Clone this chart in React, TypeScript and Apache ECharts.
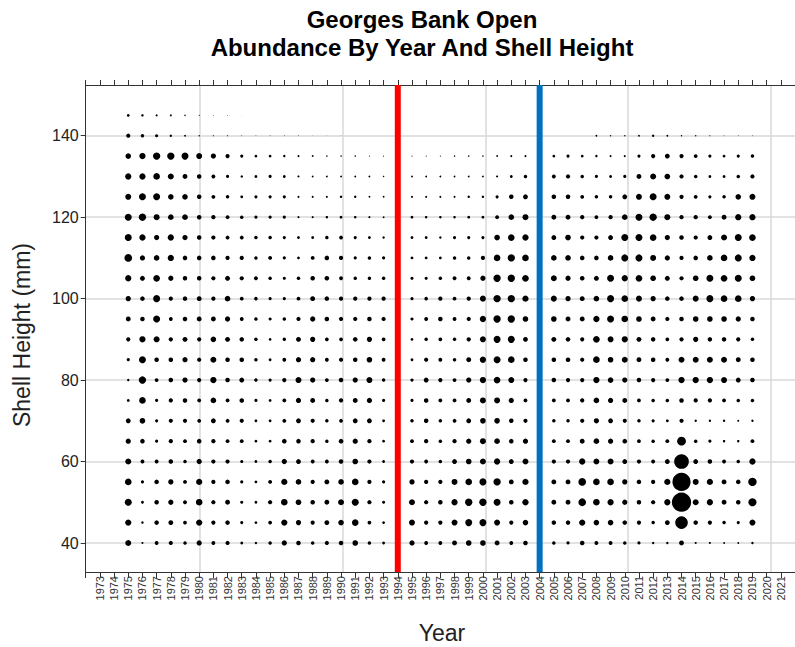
import React, { useEffect, useRef } from 'react';
import * as echarts from 'echarts';

// Survey years shown as bubble columns
const years = [
  1975, 1976, 1977, 1978, 1979, 1980, 1981, 1982, 1983, 1984,
  1985, 1986, 1987, 1988, 1989, 1990, 1991, 1992, 1993, 1994,
  1995, 1996, 1997, 1998, 1999, 2000, 2001, 2002, 2003, 2004,
  2005, 2006, 2007, 2008, 2009, 2010, 2011, 2012, 2013, 2014,
  2015, 2016, 2017, 2018, 2019,
];

// Relative abundance index per shell-height class (mm), one value per year
const h145 = [8,7,6,5,4,3,2,2,1,0, 0,0,0,0,0,0,0,0,0,0, 0,0,0,0,0,0,0,0,0,0, 0,0,0,0,0,0,0,0,0,0, 0,0,0,0,0];
const h140 = [12,10,9,7,5,4,3,3,2,2, 2,2,2,1,1,1,0,0,0,0, 0,0,0,0,0,0,0,0,0,0, 0,0,0,5,4,4,5,7,5,4, 4,3,2,2,2];
const h135 = [16,18,21,21,20,17,15,12,9,8, 8,7,6,5,4,4,4,3,3,3, 3,3,3,4,4,4,5,6,6,5, 8,9,8,7,6,6,9,12,14,12, 11,9,8,9,10];
const h130 = [18,18,19,17,14,13,11,9,7,8, 9,8,6,5,5,5,5,5,4,4, 5,5,5,5,5,5,6,8,10,7, 11,12,10,9,8,9,14,17,16,12, 10,8,8,10,12];
const h125 = [17,20,20,16,16,13,11,10,8,9, 9,9,6,6,6,7,7,5,5,5, 6,6,6,6,7,7,9,13,14,7, 13,13,11,10,10,14,17,20,17,12, 11,9,10,16,17];
const h120 = [20,21,17,16,16,13,12,11,10,9, 9,9,6,6,7,8,7,6,5,5, 8,7,7,7,8,8,11,16,17,7, 14,14,12,11,12,16,20,21,17,12, 12,11,14,18,18];
const h115 = [20,18,15,18,15,13,12,11,11,10, 10,9,8,8,10,11,9,8,7,6, 8,8,7,9,9,9,16,19,18,7, 14,16,12,12,14,20,20,19,15,13, 12,14,17,20,19];
const h110 = [22,15,16,18,13,13,13,12,12,10, 11,9,8,11,13,12,9,10,9,6, 8,8,8,10,10,12,19,21,19,7, 16,16,13,13,16,20,20,17,15,12, 13,16,19,20,18];
const h105 = [18,14,19,15,13,13,12,14,12,11, 10,9,10,13,13,11,10,10,10,6, 9,9,10,11,11,15,21,21,19,7, 17,15,13,14,20,18,19,16,14,12, 16,20,19,20,16];
const h100 = [15,13,20,12,13,14,12,16,11,10, 9,9,11,14,13,12,12,12,12,6, 9,10,12,11,12,17,21,21,18,7, 17,15,14,16,20,19,17,15,13,13, 17,20,19,19,15];
const h95 = [14,13,20,11,13,14,14,15,11,10, 9,10,12,15,13,12,12,13,12,6, 9,11,13,11,12,18,21,21,16,7, 16,14,14,18,20,19,16,14,12,13, 16,16,16,15,13];
const h90 = [12,18,17,12,14,12,16,14,13,10, 8,10,14,15,11,11,13,15,11,6, 8,10,11,10,12,17,20,20,14,7, 14,13,12,19,17,18,14,13,11,12, 15,13,13,12,10];
const h85 = [9,20,13,13,15,12,17,13,13,10, 8,11,15,15,11,12,13,16,11,6, 8,12,11,10,14,18,20,19,13,7, 13,13,12,19,16,17,14,13,11,17, 17,17,17,14,13];
const h80 = [7,21,11,13,15,12,18,13,14,10, 9,12,17,15,11,13,15,17,10,6, 9,14,12,11,15,18,19,17,12,7, 13,12,12,18,16,15,13,12,11,18, 18,18,17,14,13];
const h75 = [8,19,9,12,13,11,16,11,13,9, 8,11,15,14,10,12,14,15,9,6, 9,13,11,11,14,17,17,15,11,7, 11,11,12,16,15,14,11,10,10,13, 12,12,11,10,10];
const h70 = [14,16,9,12,12,11,14,11,12,8, 8,11,14,12,10,11,14,14,8,6, 10,13,10,11,14,16,16,13,12,7, 10,10,12,15,14,12,10,9,8,12, 7,7,7,6,7];
const h65 = [15,13,9,12,11,13,12,11,11,8, 8,13,13,12,10,13,15,12,8,6, 11,12,10,12,15,17,16,13,15,7, 11,11,14,16,15,13,11,10,11,25, 10,9,7,7,11];
const h60 = [17,11,11,13,10,15,12,12,9,8, 10,15,14,11,11,13,16,12,8,6, 12,11,10,14,16,17,18,14,17,7, 12,12,18,17,17,14,12,11,14,42, 14,13,11,10,18];
const h55 = [19,9,13,15,11,18,12,13,9,8, 11,18,16,12,14,16,19,12,9,6, 15,12,12,17,19,20,21,14,18,7, 14,14,22,19,19,15,13,12,18,52, 17,18,14,13,24];
const h50 = [20,8,13,15,11,19,12,14,9,8, 12,19,16,13,14,17,20,12,9,6, 17,12,13,18,21,21,20,13,18,7, 14,14,22,19,18,15,13,12,18,55, 17,18,14,13,23];
const h45 = [18,7,13,14,11,18,12,13,9,8, 11,18,15,12,14,16,19,11,8,6, 17,12,12,17,20,20,17,12,16,7, 13,13,18,16,16,13,12,10,14,36, 13,12,10,9,17];
const h40 = [17,6,11,12,10,15,11,12,8,7, 10,15,13,10,12,13,16,10,8,5, 15,11,11,14,16,16,14,11,13,6, 10,9,13,11,11,10,9,7,7,14, 6,6,5,5,7];

const heightRows: [number, number[]][] = [
  [40, h40], [45, h45], [50, h50], [55, h55], [60, h60], [65, h65],
  [70, h70], [75, h75], [80, h80], [85, h85], [90, h90], [95, h95],
  [100, h100], [105, h105], [110, h110], [115, h115], [120, h120],
  [125, h125], [130, h130], [135, h135], [140, h140], [145, h145],
];

// Reference years marked with vertical lines
const redLineYear = 1994;
const blueLineYear = 2004;

const X_MIN = 1972;
const X_MAX = 2022;
const Y_MIN = 32.87;
const Y_MAX = 152.46;

const FONT = '"Liberation Sans", Arial, Helvetica, sans-serif';

export default function App() {
  const ref = useRef<HTMLDivElement>(null);

  useEffect(() => {
    if (!ref.current) return;
    const chart = echarts.init(ref.current, null, { renderer: 'svg' });

    const points: number[][] = [];
    heightRows.forEach(([h, arr]) => {
      arr.forEach((v, i) => {
        if (v > 0) points.push([years[i], h, v]);
      });
    });

    const axisColor = '#333333';
    const gridColor = '#d9d9d9';

    const option: any = {
      animation: false,
      backgroundColor: '#ffffff',
      grid: [
        { left: 85.7, top: 85, width: 713.5, height: 487 },
        { left: 85.7, top: 135.7, width: 713.5, height: 407.3 },
        { left: 199.9, top: 85, width: 570.8, height: 487 },
      ],
      xAxis: [
        {
          type: 'value', gridIndex: 0, position: 'bottom', min: X_MIN, max: X_MAX, interval: 1,
          axisLine: { show: true, onZero: false, lineStyle: { color: axisColor, width: 1 } },
          axisTick: { show: true, length: 6, lineStyle: { color: axisColor, width: 1 } },
          axisLabel: {
            show: true, rotate: 90, fontSize: 11, color: '#333', margin: 4, fontFamily: FONT,
            formatter: (v: number) => (v >= 1973 && v <= 2021 ? String(v) : ''),
          },
          splitLine: { show: false },
        },
        {
          type: 'value', gridIndex: 0, position: 'top', min: X_MIN, max: X_MAX, interval: 1,
          axisLine: { show: true, onZero: false, lineStyle: { color: axisColor, width: 1 } },
          axisTick: { show: true, length: 5, lineStyle: { color: axisColor, width: 1 } },
          axisLabel: { show: false },
          splitLine: { show: false },
        },
        { type: 'value', gridIndex: 1, min: X_MIN, max: X_MAX, show: false },
        {
          type: 'value', gridIndex: 2, min: 1980, max: 2020, interval: 10,
          axisLine: { show: false }, axisTick: { show: false }, axisLabel: { show: false },
          splitLine: { show: true, lineStyle: { color: gridColor, width: 1.5 } },
        },
      ],
      yAxis: [
        {
          type: 'value', gridIndex: 0, min: Y_MIN, max: Y_MAX,
          axisLine: { show: true, onZero: false, lineStyle: { color: axisColor, width: 1 } },
          axisTick: { show: false }, axisLabel: { show: false }, splitLine: { show: false },
        },
        {
          type: 'value', gridIndex: 1, min: 40, max: 140, interval: 20,
          axisLine: { show: false },
          axisTick: { show: true, length: 5, lineStyle: { color: axisColor, width: 1 } },
          axisLabel: { show: true, fontSize: 16, color: '#222', margin: 7, fontFamily: FONT },
          splitLine: { show: true, lineStyle: { color: gridColor, width: 1.5 } },
        },
        { type: 'value', gridIndex: 2, min: 0, max: 1, show: false },
      ],
      series: [
        {
          type: 'scatter',
          xAxisIndex: 0, yAxisIndex: 0,
          data: points,
          symbol: 'circle',
          symbolSize: (val: number[]) => val[2] * 0.35,
          itemStyle: { color: '#000000', opacity: 1 },
          clip: false,
          z: 2,
        },
        {
          type: 'line', xAxisIndex: 0, yAxisIndex: 0,
          data: [[redLineYear, Y_MIN], [redLineYear, Y_MAX]],
          symbol: 'none', lineStyle: { color: '#ff0000', width: 6 }, z: 4,
        },
        {
          type: 'line', xAxisIndex: 0, yAxisIndex: 0,
          data: [[blueLineYear, Y_MIN], [blueLineYear, Y_MAX]],
          symbol: 'none', lineStyle: { color: '#0070c0', width: 6 }, z: 4,
        },
      ],
      graphic: [
        {
          type: 'text', x: 422, y: 19,
          style: {
            text: 'Georges Bank Open', font: `bold 24px ${FONT}`, fill: '#000',
            align: 'center', verticalAlign: 'middle', textAlign: 'center', textVerticalAlign: 'middle',
          },
        },
        {
          type: 'text', x: 422, y: 47,
          style: {
            text: 'Abundance By Year And Shell Height', font: `bold 24px ${FONT}`, fill: '#000',
            align: 'center', verticalAlign: 'middle', textAlign: 'center', textVerticalAlign: 'middle',
          },
        },
        {
          type: 'text', x: 442, y: 633,
          style: {
            text: 'Year', font: `23px ${FONT}`, fill: '#222',
            align: 'center', verticalAlign: 'middle', textAlign: 'center', textVerticalAlign: 'middle',
          },
        },
        {
          type: 'text', x: 22, y: 335, rotation: Math.PI / 2,
          style: {
            text: 'Shell Height (mm)', font: `23px ${FONT}`, fill: '#222',
            align: 'center', verticalAlign: 'middle', textAlign: 'center', textVerticalAlign: 'middle',
          },
        },
      ],
    };

    chart.setOption(option);
    return () => chart.dispose();
  }, []);

  return (
    <div
      ref={ref}
      style={{ position: 'absolute', left: 0, top: 0, width: 795, height: 647, background: '#fff' }}
    />
  );
}
